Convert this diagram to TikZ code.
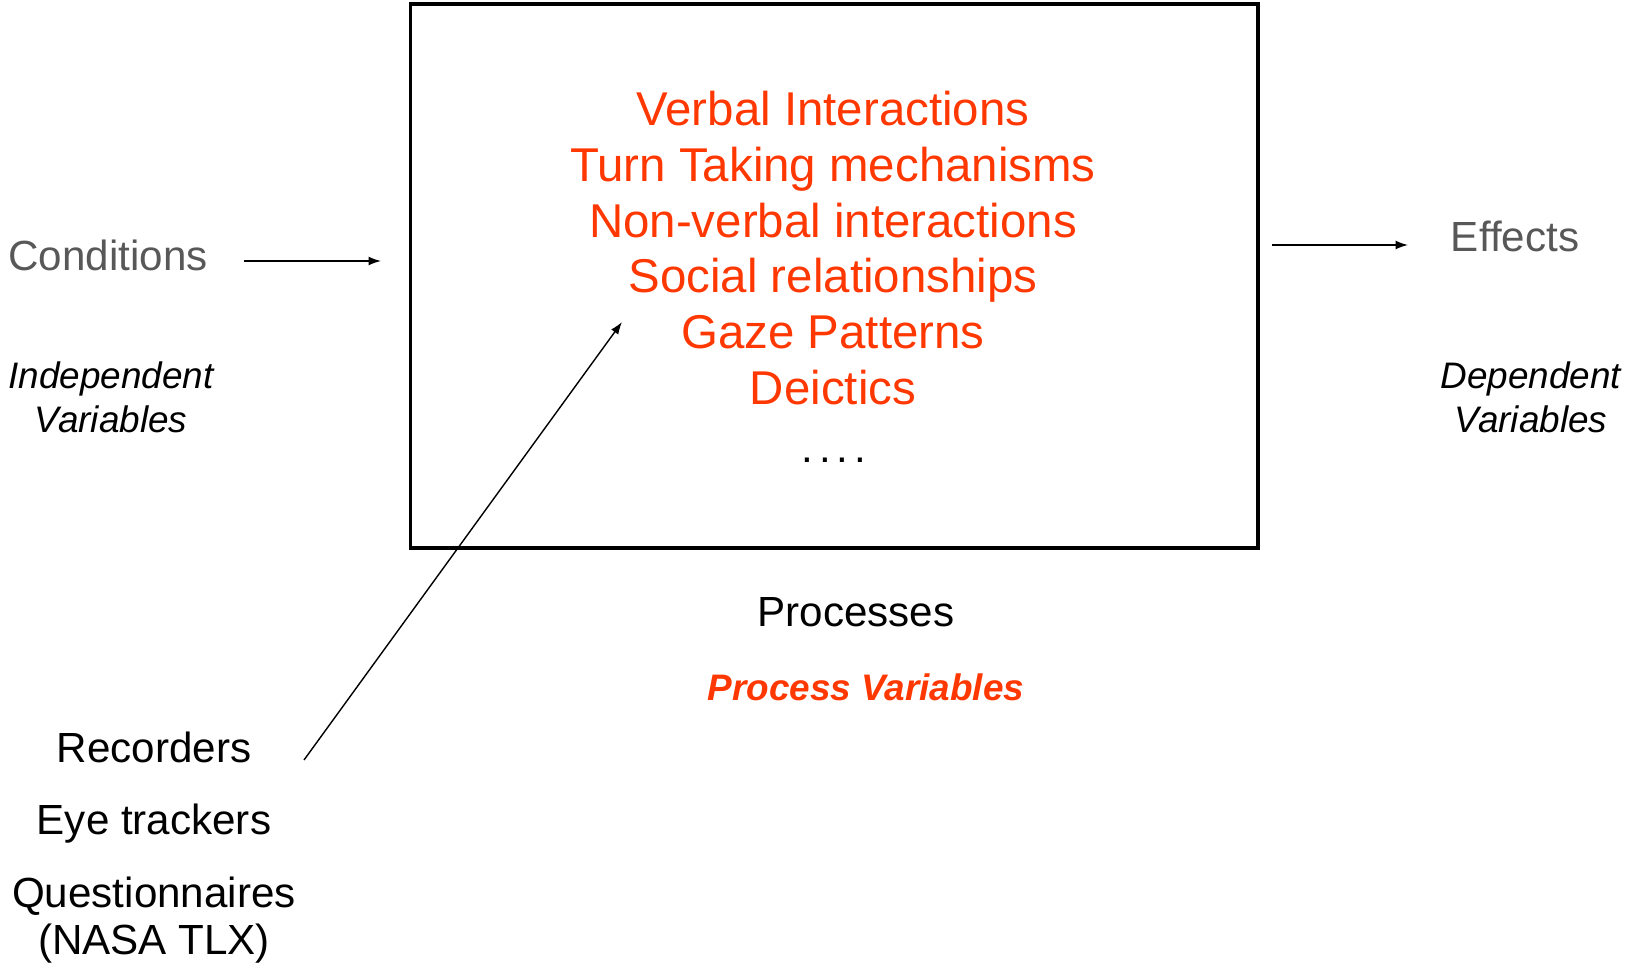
\documentclass[tikz,border=0pt]{standalone}
\usepackage{fontspec}
\setmainfont{Liberation Sans}
\usetikzlibrary{arrows.meta}
\definecolor{procred}{RGB}{255,55,0}
\definecolor{softgray}{RGB}{88,88,88}
\tikzset{
  flow/.style={-{Latex[length=7pt,width=5pt]}, line width=0.8pt},
  frame/.style={draw, line width=1.8pt, minimum width=16.96cm, minimum height=10.88cm},
  varlist/.style={text=procred, align=center, font=\fontsize{27}{31.75}\selectfont},
  plain/.style={font=\fontsize{24}{26.6}\selectfont, align=center},
  vartype/.style={font=\fontsize{21}{25}\selectfont\itshape, align=center}
}
\begin{document}
\begin{tikzpicture}[x=0.02cm,y=-0.02cm]
    \useasboundingbox (0,0) rectangle (1627,966);
    \node[frame] (box) at (834,276) {};
    \node[varlist] (procs) at (833,248) {Verbal Interactions\\Turn Taking mechanisms\\Non-verbal interactions\\Social relationships\\Gaze Patterns\\Deictics};
    \node[plain] (dots) at (834,460) {.\kern3.3pt.\kern3.3pt.\kern3.3pt.};
    \node[plain, text=softgray, anchor=base] (cond) at (108,271) {Conditions};
    \node[vartype] (indep) at (111,397) {Independent\\Variables};
    \node[plain, text=softgray, anchor=base] (eff) at (1515,252) {Effects};
    \node[vartype] (dep) at (1531,397) {Dependent\\Variables};
    \node[plain, anchor=base] (proc) at (856,626) {Processes};
    \node[font=\fontsize{21}{25}\selectfont\bfseries\itshape, text=procred, anchor=base] (procvar) at (866,700) {Process Variables};
    \node[plain, anchor=base] (rec) at (154,762) {Recorders};
    \node[plain, anchor=base] (eye) at (154,834) {Eye trackers};
    \node[plain] (quest) at (154,920) {Questionnaires\\(NASA TLX)};
    \coordinate (condout) at (244,261);
    \coordinate (boxin) at (381,261);
    \coordinate (boxout) at (1272,245);
    \coordinate (effin) at (1408,245);
    \coordinate (recout) at (304,760);
    \coordinate (procin) at (622,322);
    \draw[flow] (condout) -- (boxin);
    \draw[flow] (boxout) -- (effin);
    \draw[flow] (recout) -- (procin);
\end{tikzpicture}
\end{document}
